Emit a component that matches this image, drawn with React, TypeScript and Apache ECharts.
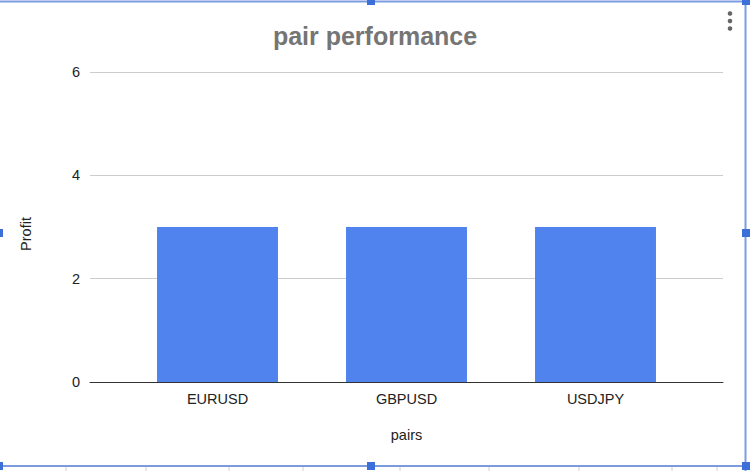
import React, { useEffect, useRef } from 'react';
import * as echarts from 'echarts';

const pairs = ['EURUSD', 'GBPUSD', 'USDJPY'];
const profit = [3, 3, 3];
const yTicks = [0, 2, 4, 6];

const App: React.FC = () => {
    const chartRef: any = useRef();

    useEffect(() => {
        document.body.style.margin = '0';
        const chart = echarts.init(chartRef.current, undefined, { renderer: 'svg' });
        const blue = '#3c6fd8';
        const edge = '#7d9be0';
        const cellLines = [66, 146, 229, 303, 400, 489, 579, 672, 717];
        const labelStyle = { fontSize: 14.5, color: '#222' };
        const option = {
            animation: false,
            backgroundColor: '#ffffff',
            textStyle: { fontFamily: 'Liberation Sans, Arial, sans-serif' },
            title: {
                text: 'pair performance',
                left: 'center',
                top: 18,
                textStyle: { fontSize: 25, fontWeight: 'bold', color: '#757575' }
            },
            // grid 0: full plot area (gridlines, y labels, baseline); grid 1: inset band for the bars
            grid: [
                { left: 90, right: 27, top: 72, bottom: 89 },
                { left: 123, right: 60, top: 72, bottom: 89 }
            ],
            xAxis: [
                {
                    type: 'value',
                    gridIndex: 0,
                    min: 0,
                    max: 1,
                    axisLine: { show: true, onZero: false, lineStyle: { color: '#333', width: 1 } },
                    axisTick: { show: false },
                    axisLabel: { show: false },
                    splitLine: { show: false }
                },
                {
                    type: 'category',
                    gridIndex: 1,
                    data: pairs,
                    name: 'pairs',
                    nameLocation: 'middle',
                    nameGap: 45,
                    nameTextStyle: labelStyle,
                    axisLine: { show: false },
                    axisTick: { show: false },
                    axisLabel: { ...labelStyle, margin: 9 }
                }
            ],
            yAxis: [
                {
                    type: 'value',
                    gridIndex: 0,
                    min: yTicks[0],
                    max: yTicks[yTicks.length - 1],
                    interval: 2,
                    name: 'Profit',
                    nameLocation: 'middle',
                    nameRotate: 90,
                    nameGap: 57,
                    nameTextStyle: { ...labelStyle, padding: [0, 14, 0, 0] },
                    axisLine: { show: false },
                    axisTick: { show: false },
                    axisLabel: { ...labelStyle, margin: 10 },
                    splitLine: { lineStyle: { color: '#cccccc', width: 1 } }
                },
                {
                    type: 'value',
                    gridIndex: 1,
                    min: yTicks[0],
                    max: yTicks[yTicks.length - 1],
                    interval: 2,
                    show: false,
                    splitLine: { show: false }
                }
            ],
            series: [{
                type: 'bar',
                xAxisIndex: 1,
                yAxisIndex: 1,
                data: profit,
                barWidth: '64%',
                itemStyle: { color: '#5083ed' }
            }],
            graphic: [
                // selection frame of the embedded chart
                { type: 'line', shape: { x1: 0, y1: 1.5, x2: 750, y2: 1.5 }, style: { stroke: edge, lineWidth: 2 } },
                { type: 'line', shape: { x1: 0, y1: 466, x2: 750, y2: 466 }, style: { stroke: edge, lineWidth: 2 } },
                { type: 'line', shape: { x1: 745.5, y1: 0, x2: 745.5, y2: 471 }, style: { stroke: edge, lineWidth: 2 } },
                ...cellLines.map((x) => ({
                    type: 'line', shape: { x1: x, y1: 467, x2: x, y2: 471 }, style: { stroke: '#d0d0d0', lineWidth: 1 }
                })),
                { type: 'rect', shape: { x: 367, y: 0, width: 8, height: 5 }, style: { fill: blue } },
                { type: 'rect', shape: { x: 367, y: 462, width: 8, height: 8 }, style: { fill: blue } },
                { type: 'rect', shape: { x: 742, y: 229, width: 8, height: 8 }, style: { fill: blue } },
                { type: 'rect', shape: { x: 742, y: 0, width: 8, height: 5 }, style: { fill: blue } },
                { type: 'rect', shape: { x: 742, y: 462, width: 8, height: 8 }, style: { fill: blue } },
                { type: 'rect', shape: { x: 0, y: 229, width: 3, height: 8 }, style: { fill: blue } },
                { type: 'rect', shape: { x: 0, y: 462, width: 3, height: 8 }, style: { fill: blue } },
                // menu dots
                { type: 'circle', shape: { cx: 730, cy: 13.5, r: 2.3 }, style: { fill: '#666' } },
                { type: 'circle', shape: { cx: 730, cy: 21, r: 2.3 }, style: { fill: '#666' } },
                { type: 'circle', shape: { cx: 730, cy: 28.5, r: 2.3 }, style: { fill: '#666' } }
            ]
        };
        chart.setOption(option);
        return () => {
            chart.dispose();
        };
    }, []);

    return <div ref={chartRef} style={{ position: 'absolute', left: 0, top: 0, width: 750, height: 471 }}></div>;
};

export default App;
